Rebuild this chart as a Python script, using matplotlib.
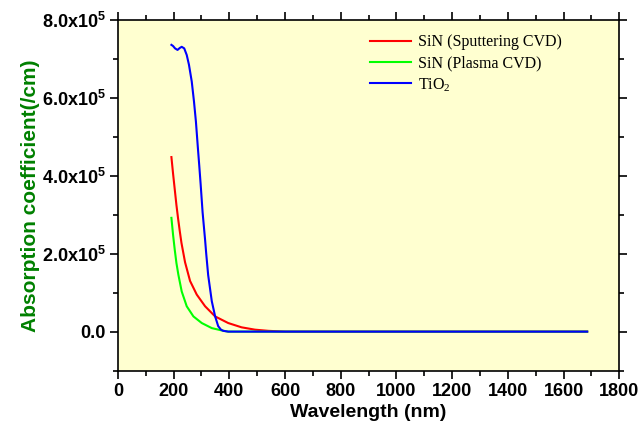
import matplotlib
matplotlib.use("Agg")
import matplotlib.pyplot as plt
from matplotlib.ticker import FuncFormatter, MultipleLocator

plt.rcParams["font.family"] = ["Liberation Sans", "DejaVu Sans"]
plt.rcParams["mathtext.fontset"] = "custom"
plt.rcParams["mathtext.rm"] = "Liberation Sans:bold"
plt.rcParams["mathtext.bf"] = "Liberation Sans:bold"

# wavelength (nm) and absorption coefficient (/cm)
wl_sput = [192, 198, 204, 210, 216, 222, 228, 241, 259, 283, 313, 349, 396, 444, 492, 540,
           600, 800, 1200, 1685]
ab_sput = [4.48e5, 4.05e5, 3.65e5, 3.25e5, 2.90e5, 2.58e5, 2.28e5, 1.78e5, 1.30e5, 0.95e5,
           0.65e5, 0.39e5, 0.22e5, 0.11e5, 0.05e5, 0.02e5, 0, 0, 0, 0]

wl_plasma = [192, 198, 204, 210, 217, 229, 247, 271, 301, 337, 373, 396, 600, 1000, 1400, 1685]
ab_plasma = [2.92e5, 2.48e5, 2.10e5, 1.76e5, 1.46e5, 1.03e5, 0.65e5, 0.39e5, 0.22e5, 0.09e5,
             0.03e5, 0, 0, 0, 0, 0]

wl_tio2 = [192, 198, 205, 214, 222, 229, 238, 247, 255, 265, 273, 280, 287, 292, 297, 304,
           313, 317, 324, 337, 349, 360, 370, 378, 396, 600, 1000, 1400, 1685]
ab_tio2 = [7.36e5, 7.33e5, 7.27e5, 7.23e5, 7.28e5, 7.31e5, 7.27e5, 7.10e5, 6.85e5, 6.42e5,
           5.91e5, 5.39e5, 4.72e5, 4.26e5, 3.78e5, 3.06e5, 2.35e5, 2.00e5, 1.45e5, 0.78e5,
           0.39e5, 0.14e5, 0.05e5, 0.02e5, 0, 0, 0, 0, 0]

series = [
    ("SiN (Sputtering CVD)", wl_sput, ab_sput, "#FF0000"),
    ("SiN (Plasma CVD)", wl_plasma, ab_plasma, "#00FF00"),
    (r"TiO$_\mathregular{2}$", wl_tio2, ab_tio2, "#0000FF"),
]


def yfmt(v, pos):
    if abs(v) < 1:
        return "0.0"
    return f"{v / 1e5:.1f}x10" + r"$^{5}$"


fig = plt.figure(figsize=(6.41, 4.24), dpi=100)
ax = fig.add_axes([0.184, 0.126, 0.782, 0.827])
ax.set_facecolor("#FFFFD0")

for lbl, x, y, clr in series:
    ax.plot(x, y, color=clr, linewidth=1.5, label=lbl)

ax.set_xlim(0, 1800)
ax.set_ylim(-1e5, 8e5)
ax.xaxis.set_major_locator(MultipleLocator(200))
ax.xaxis.set_minor_locator(MultipleLocator(100))
ax.yaxis.set_major_locator(MultipleLocator(2e5))
ax.yaxis.set_minor_locator(MultipleLocator(1e5))
ax.yaxis.set_major_formatter(FuncFormatter(yfmt))

ax.tick_params(which="both", direction="out", top=True, right=True, width=1.2)
ax.tick_params(which="major", length=6, labelsize=13, pad=3)
ax.tick_params(which="minor", length=3.5)
for lab in ax.get_xticklabels() + ax.get_yticklabels():
    lab.set_fontweight("bold")
for s in ax.spines.values():
    s.set_linewidth(1.2)

ax.set_xlabel("Wavelength (nm)", fontsize=14, fontweight="bold", labelpad=3)
ax.set_ylabel("Absorption coefficient(/cm)", fontsize=15, fontweight="bold",
              color="#008000", labelpad=1)

leg = ax.legend(loc="upper right", frameon=False, bbox_to_anchor=(0.915, 1.0),
                prop={"family": "Liberation Serif", "size": 11.5},
                handlelength=2.6, handletextpad=0.45, labelspacing=0.3)

fig.savefig("out.png", dpi=100)
